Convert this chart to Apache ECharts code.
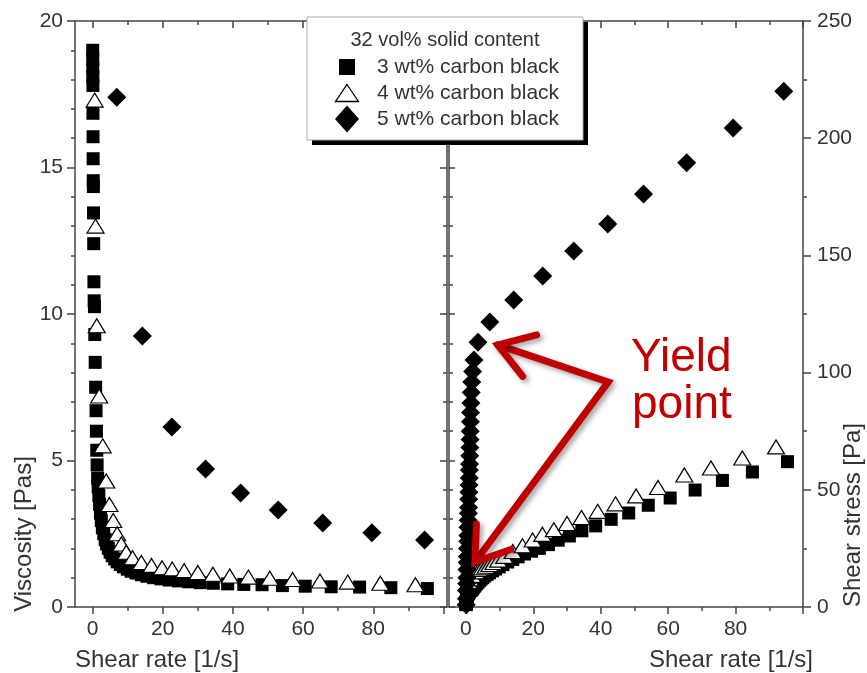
<!DOCTYPE html>
<html>
<head>
<meta charset="utf-8">
<script src="https://cdn.jsdelivr.net/npm/echarts@6/dist/echarts.min.js"></script>
<style>
  html, body { margin: 0; padding: 0; background: #fff; }
  #chart { width: 867px; height: 673px; }
</style>
</head>
<body>
<div id="chart"></div>
<script>
// 3 wt% carbon black (squares): shear rate [1/s], viscosity [Pas], shear stress [Pa]
const rate3 = [0.05, 0.06, 0.07, 0.08, 0.1, 0.12, 0.14, 0.17, 0.2, 0.24, 0.28, 0.33, 0.39, 0.46, 0.54, 0.64, 0.75, 0.88, 1.0, 1.1, 1.2, 1.3, 1.45,
  1.6, 1.8, 2.0, 2.25, 2.5, 2.8, 3.2, 3.6, 4.0, 4.5, 5.0, 5.6, 6.3, 7.0, 7.9, 8.8, 9.9, 11.0, 12.4, 13.9, 15.5, 17.4, 19.5,
  21.8, 24.5, 27.4, 30.7, 34.4, 38.5, 43.1, 48.3, 54.1, 60.6, 68.0, 76.1, 85.0, 95.4];
const visc3 = [19.0, 18.7, 18.4, 18.1, 17.8, 16.85, 16.05, 15.3, 14.55, 14.35, 13.45, 12.4, 11.1, 10.45, 10.25, 9.3, 8.35, 7.5, 6.7, 6.0, 5.35, 4.85, 4.4,
  4.1, 3.8, 3.5, 3.2, 2.95, 2.7, 2.5, 2.3, 2.15, 2.0, 1.87, 1.75, 1.64, 1.54, 1.45, 1.37, 1.29, 1.22, 1.16, 1.1, 1.05, 1.0, 0.96,
  0.92, 0.89, 0.86, 0.83, 0.81, 0.79, 0.77, 0.76, 0.73, 0.71, 0.69, 0.68, 0.66, 0.63];
const stress3 = [1.0, 1.1, 1.3, 1.5, 1.8, 2.0, 2.3, 2.6, 2.9, 3.3, 3.7, 4.1, 4.4, 4.8, 5.3, 5.8, 6.2, 6.5, 6.7, 6.8, 6.9, 7.0, 7.1,
  7.2, 7.5, 7.8, 8.3, 8.8, 9.4, 10.0, 10.6, 11.2, 11.9, 12.5, 13.2, 13.9, 14.6, 15.4, 16.2, 17.1, 18.1, 19.2, 20.3, 21.4, 22.6, 23.8,
  25.0, 26.6, 28.5, 30.3, 32.5, 34.6, 37.4, 40.1, 43.4, 46.5, 49.9, 54.0, 57.6, 62.0];

// 4 wt% carbon black (open triangles)
const rate4 = [0.6, 0.85, 1.2, 1.9, 2.9, 3.9, 4.8, 5.9, 7.0, 8.2, 9.6, 11.4, 13.9, 16.8, 19.8, 22.7, 26.1, 30.0, 34.3, 39.1, 44.4, 50.5, 57.0, 64.8, 72.7, 82.0, 92.0];
const visc4 = [17.3, 13.0, 9.6, 7.2, 5.5, 4.3, 3.5, 2.95, 2.5, 2.15, 1.87, 1.68, 1.52, 1.42, 1.34, 1.3, 1.24, 1.18, 1.12, 1.06, 1.02, 0.98, 0.94, 0.89, 0.85, 0.81, 0.76];
const stress4 = [10.4, 11.0, 12.0, 13.5, 15.0, 16.0, 16.7, 17.4, 18.1, 19.0, 20.0, 21.6, 23.7, 26.1, 28.6, 31.0, 33.0, 35.6, 38.2, 40.8, 44.0, 47.4, 51.0, 56.3, 59.3, 63.6, 68.3];

// 5 wt% carbon black (diamonds); only the higher rates stay inside the viscosity panel
const rate5Visc = [6.9, 14.2, 22.6, 32.2, 42.2, 52.9, 65.6, 79.6, 94.6];
const visc5 = [17.4, 9.25, 6.14, 4.71, 3.89, 3.31, 2.87, 2.53, 2.29];
const rate5 = [0.1, 0.15, 0.18, 0.25, 0.3, 0.33, 0.4, 0.45, 0.48, 0.55, 0.6, 0.62, 0.7, 0.75, 0.8, 0.86, 0.9, 0.95, 1.0, 1.04, 1.1,
  1.15, 1.2, 1.25, 1.3, 1.35, 1.4, 1.5, 1.6, 1.75, 2.0, 2.4, 3.6, 7.1, 14.2, 22.8, 32.0, 42.1, 52.7, 65.5, 79.3, 94.3];
const stress5 = [1, 3.5, 7, 10, 12.5, 16, 19, 21.5, 25, 28, 30.5, 34, 37, 40, 42.5, 46, 49, 52, 55, 58.5, 61,
  64.5, 68, 71.5, 75, 79, 83, 87, 91.5, 96, 100.5, 105.4, 113, 121.6, 131, 141.2, 151.9, 163.4, 176.2, 189.5, 204.4, 220];

const xMajor = [0, 20, 40, 60, 80, 100];
const xMinor = [10, 30, 50, 70, 90];
const xLabels = [0, 20, 40, 60, 80];
const seriesNames = ['3 wt% carbon black', '4 wt% carbon black', '5 wt% carbon black'];

const FONT = '"Liberation Sans", Arial, sans-serif';
const LINE = { color: '#444', width: 1.5 };
const TXT = '#333';

const pairs = (xs, ys) => xs.map((x, i) => [x, ys[i]]);

function xAxesFor(grid, max) {
  const base = { gridIndex: grid, type: 'value', min: -5, max: max, splitLine: { show: false } };
  return [
    Object.assign({}, base, {
      position: 'bottom',
      axisLine: { show: true, onZero: false, lineStyle: LINE },
      axisTick: { show: true, length: 7, customValues: xMajor, lineStyle: LINE },
      axisLabel: { show: true, customValues: xLabels, margin: 12, fontSize: 21, color: TXT, fontFamily: FONT }
    }),
    Object.assign({}, base, {
      position: 'bottom',
      axisLine: { show: false, onZero: false },
      axisTick: { show: true, length: 4, customValues: xMinor, lineStyle: LINE },
      axisLabel: { show: false }
    }),
    Object.assign({}, base, {
      position: 'top',
      axisLine: { show: true, onZero: false, lineStyle: LINE },
      axisTick: { show: true, inside: true, length: 7, customValues: xMajor, lineStyle: LINE },
      axisLabel: { show: false }
    }),
    Object.assign({}, base, {
      position: 'top',
      axisLine: { show: false, onZero: false },
      axisTick: { show: true, inside: true, length: 4, customValues: xMinor, lineStyle: LINE },
      axisLabel: { show: false }
    })
  ];
}

function scatter(name, xi, yi, data) {
  const s = { name: name, type: 'scatter', xAxisIndex: xi, yAxisIndex: yi, data: data, animation: false };
  if (name === seriesNames[0]) {
    s.symbol = 'rect'; s.symbolSize = 13; s.itemStyle = { color: '#000', opacity: 1 };
  } else if (name === seriesNames[1]) {
    s.symbol = 'triangle'; s.symbolSize = [17, 14];
    s.itemStyle = { color: '#fff', borderColor: '#000', borderWidth: 1.2, opacity: 1 };
  } else {
    s.symbol = 'diamond'; s.symbolSize = 19; s.itemStyle = { color: '#000', opacity: 1 };
  }
  return s;
}

const chart = echarts.init(document.getElementById('chart'));

chart.setOption({
  animation: false,
  backgroundColor: '#fff',
  textStyle: { fontFamily: FONT },
  grid: [
    { left: 75, top: 21, width: 372, height: 586 },
    { left: 449, top: 21, width: 354, height: 586 }
  ],
  xAxis: [].concat(xAxesFor(0, 101), xAxesFor(1, 100)),
  yAxis: [
    {
      gridIndex: 0, type: 'value', min: 0, max: 20, interval: 5, position: 'left',
      axisLine: { show: true, onZero: false, lineStyle: LINE },
      axisTick: { show: true, length: 8, lineStyle: LINE },
      minorTick: { show: true, splitNumber: 5, length: 4, lineStyle: LINE },
      axisLabel: { margin: 12, fontSize: 21, color: TXT, fontFamily: FONT },
      splitLine: { show: false }
    },
    {
      gridIndex: 0, type: 'value', min: 0, max: 20, interval: 5, position: 'right',
      axisLine: { show: true, onZero: false, lineStyle: LINE },
      axisTick: { show: true, inside: true, length: 7, lineStyle: LINE },
      minorTick: { show: true, splitNumber: 5, length: 4, lineStyle: LINE },
      axisLabel: { show: false },
      splitLine: { show: false }
    },
    {
      gridIndex: 1, type: 'value', min: 0, max: 250, interval: 50, position: 'right',
      axisLine: { show: true, onZero: false, lineStyle: LINE },
      axisTick: { show: true, length: 8, lineStyle: LINE },
      minorTick: { show: true, splitNumber: 2, length: 4, lineStyle: LINE },
      axisLabel: { margin: 14, fontSize: 21, color: TXT, fontFamily: FONT },
      splitLine: { show: false }
    },
    {
      gridIndex: 1, type: 'value', min: 0, max: 250, interval: 62.5, position: 'left',
      axisLine: { show: true, onZero: false, lineStyle: LINE },
      axisTick: { show: true, inside: true, length: 6, lineStyle: LINE },
      minorTick: { show: true, splitNumber: 5, length: 4, lineStyle: LINE },
      axisLabel: { show: false },
      splitLine: { show: false }
    }
  ],
  series: [
    scatter(seriesNames[0], 0, 0, pairs(rate3, visc3)),
    scatter(seriesNames[1], 0, 0, pairs(rate4, visc4)),
    scatter(seriesNames[2], 0, 0, pairs(rate5Visc, visc5)),
    scatter(seriesNames[0], 4, 2, pairs(rate3, stress3)),
    scatter(seriesNames[1], 4, 2, pairs(rate4, stress4)),
    scatter(seriesNames[2], 4, 2, pairs(rate5, stress5))
  ]
});

// annotation: arrows point at the yield points in the stress panel
const px = (x, y) => chart.convertToPixel({ xAxisIndex: 4, yAxisIndex: 2 }, [x, y]);
const vertex = px(42.2, 96);
const tips = [px(9.5, 111.8), px(2.7, 19.2)];
const RED = '#c00000';
const arrowStyle = {
  stroke: RED, lineWidth: 7, fill: null, lineJoin: 'miter', lineCap: 'round',
  shadowBlur: 5, shadowColor: 'rgba(0,0,0,0.35)', shadowOffsetX: 3, shadowOffsetY: 3
};

function head(tip, from, len, ang) {
  const a = Math.atan2(from[1] - tip[1], from[0] - tip[0]);
  return [
    [tip[0] + len * Math.cos(a + ang), tip[1] + len * Math.sin(a + ang)],
    tip,
    [tip[0] + len * Math.cos(a - ang), tip[1] + len * Math.sin(a - ang)]
  ];
}

const legendItems = [
  { y: 67, label: seriesNames[0], shape: { type: 'rect', shape: { x: 339, y: 59, width: 16, height: 16 }, style: { fill: '#000' } } },
  { y: 93, label: seriesNames[1], shape: { type: 'polygon', shape: { points: [[347, 84.5], [358.5, 101.5], [335.5, 101.5]] }, style: { fill: '#fff', stroke: '#000', lineWidth: 1.3 } } },
  { y: 119, label: seriesNames[2], shape: { type: 'polygon', shape: { points: [[347, 105.5], [359, 119], [347, 132.5], [335, 119]] }, style: { fill: '#000' } } }
];

const elements = [
  { type: 'rect', z: 10, shape: { x: 312, y: 22, width: 276, height: 123 }, style: { fill: '#000' } },
  { type: 'rect', z: 11, shape: { x: 307, y: 17, width: 276, height: 123 }, style: { fill: '#fff', stroke: '#aaa', lineWidth: 1 } },
  { type: 'text', z: 12, x: 445, y: 40, style: { text: '32 vol% solid content', fontSize: 20, fontFamily: FONT, fill: TXT, align: 'center', verticalAlign: 'middle' } },
  { type: 'text', x: 24, y: 534, rotation: Math.PI / 2, style: { text: 'Viscosity [Pas]', fontSize: 24, fontFamily: FONT, fill: TXT, align: 'center', verticalAlign: 'middle' } },
  { type: 'text', x: 853, y: 515, rotation: Math.PI / 2, style: { text: 'Shear stress [Pa]', fontSize: 24, fontFamily: FONT, fill: TXT, align: 'center', verticalAlign: 'middle' } },
  { type: 'text', x: 75, y: 660, style: { text: 'Shear rate [1/s]', fontSize: 24, fontFamily: FONT, fill: TXT, align: 'left', verticalAlign: 'middle' } },
  { type: 'text', x: 813, y: 660, style: { text: 'Shear rate [1/s]', fontSize: 24, fontFamily: FONT, fill: TXT, align: 'right', verticalAlign: 'middle' } },
  { type: 'polyline', z: 20, shape: { points: [tips[0], vertex, tips[1]] }, style: arrowStyle },
  { type: 'polyline', z: 20, shape: { points: head(tips[0], vertex, 40, 0.58) }, style: arrowStyle },
  { type: 'polyline', z: 20, shape: { points: head(tips[1], vertex, 38, 0.6) }, style: arrowStyle },
  { type: 'text', z: 20, x: 631, y: 358, style: { text: 'Yield', fontSize: 46, fontFamily: FONT, fill: RED, align: 'left', verticalAlign: 'middle' } },
  { type: 'text', z: 20, x: 632, y: 405, style: { text: 'point', fontSize: 46, fontFamily: FONT, fill: RED, align: 'left', verticalAlign: 'middle' } }
];
legendItems.forEach(it => {
  elements.push(Object.assign({ z: 12 }, it.shape));
  elements.push({ type: 'text', z: 12, x: 377, y: it.y, style: { text: it.label, fontSize: 21, fontFamily: FONT, fill: TXT, align: 'left', verticalAlign: 'middle' } });
});

chart.setOption({ graphic: { elements: elements } });
</script>
</body>
</html>
